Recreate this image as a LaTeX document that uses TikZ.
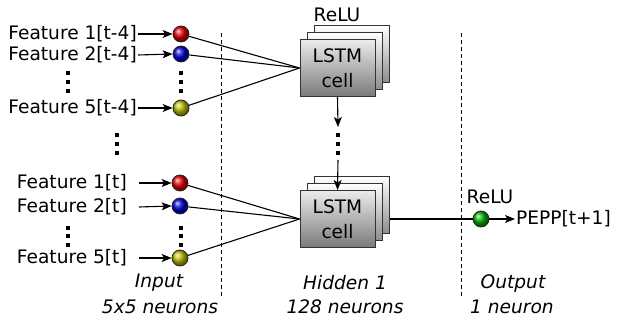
\documentclass[tikz,border=0pt]{standalone}
\usepackage{fontspec}
\setmainfont{DejaVu Sans}
\usetikzlibrary{arrows.meta,shadings}
\begin{document}
\begin{tikzpicture}[x=1pt,y=-1pt,
  txt/.style={font=\fontsize{18.6}{24}\selectfont, inner sep=1pt},
  lbl/.style={font=\fontsize{18.6}{24}\selectfont\itshape, inner sep=0pt},
  neuron/.style={circle, minimum size=16pt, inner sep=0pt, draw=black!85, line width=0.8pt, ball color=#1},
  arr/.style={-{Stealth[length=10pt,width=8pt,inset=2.5pt]}, line width=1.1pt},
  wire/.style={line width=1.1pt},
  frontcell/.style={draw=black!80, line width=1pt, minimum width=75pt, minimum height=57pt, inner sep=0pt,
     top color=black!8, bottom color=black!52, align=center, font=\fontsize{18.6}{25}\selectfont},
  backcell/.style={draw=black!80, line width=1pt, minimum width=75pt, minimum height=57pt, inner sep=0pt,
     top color=white, bottom color=black!45},
  dotmark/.style={fill=black, minimum size=4.4pt, inner sep=0pt},
  sepline/.style={dash pattern=on 4pt off 3pt, line width=1pt}
]
\useasboundingbox (0,0) rectangle (624,320);

% separators
\coordinate (s1t) at (221,33); \coordinate (s1b) at (221,297);
\coordinate (s2t) at (461,33); \coordinate (s2b) at (461,297);
\draw[sepline] (s1t) -- (s1b);
\draw[sepline] (s2t) -- (s2b);

% upper input group
\node[txt,anchor=east] (fa1) at (138,34) {Feature 1[t-4]};
\node[txt,anchor=east] (fa2) at (138,55) {Feature 2[t-4]};
\node[txt,anchor=east] (fa5) at (138,108) {Feature 5[t-4]};
\node[neuron=red!90!black] (ra) at (181,34) {};
\node[neuron=blue!85!black] (ba) at (181,54) {};
\node[neuron=yellow!75!black] (ya) at (181,108) {};
\draw[arr] (fa1.east) -- (ra.west);
\draw[arr] (fa2.east) -- (ba.west);
\draw[arr] (fa5.east) -- (ya.west);
\foreach \y [count=\i] in {73,82,91}{
  \node[dotmark] (dfa\i) at (68,\y) {};
  \node[dotmark] (dca\i) at (181,\y) {};
}

% middle dots
\foreach \y [count=\i] in {135,144,153}{
  \node[dotmark] (dm\i) at (117,\y) {};
  \node[dotmark] (dl\i) at (338,\y) {};
}

% lower input group
\node[txt,anchor=east] (fb1) at (128,183) {Feature 1[t]};
\node[txt,anchor=east] (fb2) at (128,207) {Feature 2[t]};
\node[txt,anchor=east] (fb5) at (128,258) {Feature 5[t]};
\node[neuron=red!90!black] (rb) at (180,183) {};
\node[neuron=blue!85!black] (bb) at (180,206) {};
\node[neuron=yellow!75!black] (yb) at (180,258) {};
\draw[arr] ([xshift=11pt]fb1.east) -- (rb.west);
\draw[arr] ([xshift=11pt]fb2.east) -- (bb.west);
\draw[arr] ([xshift=11pt]fb5.east) -- (yb.west);
\foreach \y [count=\i] in {228,236,245}{
  \node[dotmark] (dfb\i) at (68,\y) {};
  \node[dotmark] (dcb\i) at (181,\y) {};
}

% output neuron
\node[neuron=green!70!black] (g) at (481,219) {};
\node[txt] (relub) at (490,197) {ReLU};
\node[txt,anchor=west] (out) at (515,219) {PEPP[t+1]};

% LSTM stacks
\coordinate (c1p) at (337.5,68);
\coordinate (c2p) at (337.5,219);
\node[backcell] (c1c) at (351.5,54) {};
\node[backcell] (c1b) at (344.5,61) {};
\node[frontcell] (c1) at (c1p) {LSTM\\cell};
\node[txt] (relua) at (337,15) {ReLU};

\draw[wire] (c2p) -- (g.west);
\node[backcell] (c2c) at (351.5,205) {};
\node[backcell] (c2b) at (344.5,212) {};
\node[frontcell] (c2) at (c2p) {LSTM\\cell};

% connections to cells
\foreach \n in {ra,ba,ya}{ \draw[wire] (\n) -- (c1.west); }
\foreach \n in {rb,bb,yb}{ \draw[wire] (\n) -- (c2.west); }

\coordinate (a1) at (338,127);
\coordinate (a2) at (338,160);
\draw[arr] (c1.south) -- (a1);
\draw[arr] (a2) -- (c2.north);
\draw[arr] (g.east) -- (out.west);

% layer labels
\node[lbl] (l1a) at (159,283) {Input};
\node[lbl] (l1b) at (160,307) {5x5 neurons};
\node[lbl] (l2a) at (345,283) {Hidden 1};
\node[lbl] (l2b) at (345,307) {128 neurons};
\node[lbl] (l3a) at (513,284) {Output};
\node[lbl] (l3b) at (512,307) {1 neuron};
\end{tikzpicture}
\end{document}
